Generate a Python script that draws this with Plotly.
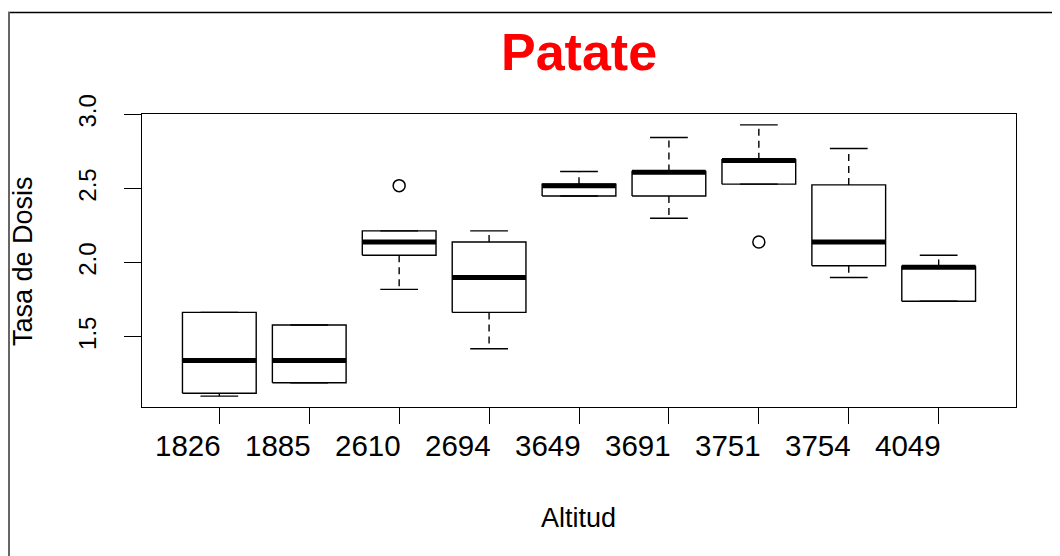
import plotly.graph_objects as go

# ---- data ----
altitudes = ["1826", "1885", "2610", "2694", "3649", "3691", "3751", "3754", "4049"]
lower_whisker = [1.10, 1.19, 1.82, 1.42, 2.45, 2.30, 2.53, 1.90, 1.74]
q1 = [1.12, 1.19, 2.05, 1.665, 2.45, 2.45, 2.53, 1.98, 1.74]
median = [1.34, 1.34, 2.14, 1.90, 2.52, 2.61, 2.69, 2.14, 1.97]
q3 = [1.665, 1.58, 2.215, 2.14, 2.53, 2.615, 2.695, 2.525, 1.975]
upper_whisker = [1.665, 1.58, 2.215, 2.215, 2.615, 2.845, 2.93, 2.77, 2.05]
outlier_group = ["2610", "3751"]
outlier_value = [2.52, 2.14]
y_ticks = [1.5, 2.0, 2.5, 3.0]
y_tick_labels = ["1.5", "2.0", "2.5", "3.0"]

FONT = "Liberation Sans, Arial, sans-serif"
BOX_HALF = 0.41
CAP_HALF = 0.21

pos = list(range(1, len(altitudes) + 1))
pos_of = {a: p for a, p in zip(altitudes, pos)}

fig = go.Figure()

# boxes
bx, by = [], []
for p, a, b in zip(pos, q1, q3):
    bx += [p - BOX_HALF, p + BOX_HALF, p + BOX_HALF, p - BOX_HALF, p - BOX_HALF, None]
    by += [a, a, b, b, a, None]
fig.add_trace(go.Scatter(x=bx, y=by, mode="lines", line=dict(color="black", width=1.4),
                         hoverinfo="skip", showlegend=False))

# dashed whiskers
wx, wy = [], []
for p, lw, a, b, uw in zip(pos, lower_whisker, q1, q3, upper_whisker):
    if uw > b:
        wx += [p, p, None]
        wy += [b, uw, None]
    if lw < a:
        wx += [p, p, None]
        wy += [a, lw, None]
fig.add_trace(go.Scatter(x=wx, y=wy, mode="lines",
                         line=dict(color="black", width=1.4, dash="7px,5px"),
                         hoverinfo="skip", showlegend=False))

# staples
sx, sy = [], []
for p, lw, uw in zip(pos, lower_whisker, upper_whisker):
    sx += [p - CAP_HALF, p + CAP_HALF, None, p - CAP_HALF, p + CAP_HALF, None]
    sy += [lw, lw, None, uw, uw, None]
fig.add_trace(go.Scatter(x=sx, y=sy, mode="lines", line=dict(color="black", width=1.4),
                         hoverinfo="skip", showlegend=False))

# medians (thick)
mx, my = [], []
for p, m in zip(pos, median):
    mx += [p - BOX_HALF, p + BOX_HALF, None]
    my += [m, m, None]
fig.add_trace(go.Scatter(x=mx, y=my, mode="lines", line=dict(color="black", width=5),
                         hoverinfo="skip", showlegend=False))

# outliers
fig.add_trace(go.Scatter(x=[pos_of[g] for g in outlier_group], y=outlier_value, mode="markers",
                         marker=dict(symbol="circle-open", size=12, color="black",
                                     line=dict(width=1.5, color="black")),
                         hoverinfo="skip", showlegend=False))

# R-style axis limits (4% extension)
all_vals = lower_whisker + upper_whisker + outlier_value
lo, hi = min(all_vals), max(all_vals)
ext = 0.04 * (hi - lo)
n = len(altitudes)

OFF = 8  # page body margin
L, R, T, B = 134, 44, 106, 149
W, H = 1052, 548
PW, PH = W - L - R, H - T - B


def px(xs):
    return (xs - OFF - L) / PW


def py(ys):
    return (H - B - (ys - OFF)) / PH


annotations = [
    dict(text="<b>Patate</b>", x=px(579), y=py(52), xref="paper", yref="paper",
         xanchor="center", yanchor="middle", showarrow=False,
         font=dict(size=52, color="#FF0000", family=FONT)),
    dict(text="Altitud", x=px(578), y=py(518), xref="paper", yref="paper",
         xanchor="center", yanchor="middle", showarrow=False,
         font=dict(size=27, color="black", family=FONT)),
    dict(text="Tasa de Dosis", x=px(23), y=py(261), xref="paper", yref="paper",
         xanchor="center", yanchor="middle", showarrow=False, textangle=-90,
         font=dict(size=27, color="black", family=FONT)),
]
# x tick labels (drawn slightly left of their ticks, as in the reference)
for p, a in zip(pos, altitudes):
    annotations.append(dict(text=a, x=p, xref="x", y=py(445), yref="paper",
                            xanchor="center", yanchor="middle", xshift=-31,
                            showarrow=False, font=dict(size=29.5, color="black", family=FONT)))

fig.update_layout(
    width=W, height=H,
    margin=dict(l=L, r=R, t=T, b=B, pad=0),
    paper_bgcolor="white", plot_bgcolor="white",
    font=dict(family=FONT, color="black"),
    xaxis=dict(range=[0.5 - 0.04 * n, n + 0.5 + 0.04 * n], tickmode="array", tickvals=pos,
               ticktext=altitudes, showticklabels=False, showgrid=False, zeroline=False,
               showline=True, mirror=True, linecolor="black", linewidth=1.4,
               ticks="outside", ticklen=16, tickwidth=1.4, tickcolor="black"),
    yaxis=dict(range=[lo - ext, hi + ext], tickmode="array", tickvals=y_ticks,
               ticktext=y_tick_labels, showgrid=False, zeroline=False,
               showline=True, mirror=True, linecolor="black", linewidth=1.4,
               ticks="outside", ticklen=17, tickwidth=1.4, tickcolor="black",
               tickangle=-90, tickfont=dict(size=24, family=FONT, color="black"),
               ticklabelstandoff=18),
    annotations=annotations,
    shapes=[
        dict(type="line", xref="paper", yref="paper", x0=px(8), x1=px(1060), y0=py(12.5), y1=py(12.5),
             line=dict(color="black", width=1.5)),
        dict(type="line", xref="paper", yref="paper", x0=px(9), x1=px(9), y0=py(12), y1=py(556),
             line=dict(color="#666666", width=2)),
    ],
)

fig.write_html("out.html")
